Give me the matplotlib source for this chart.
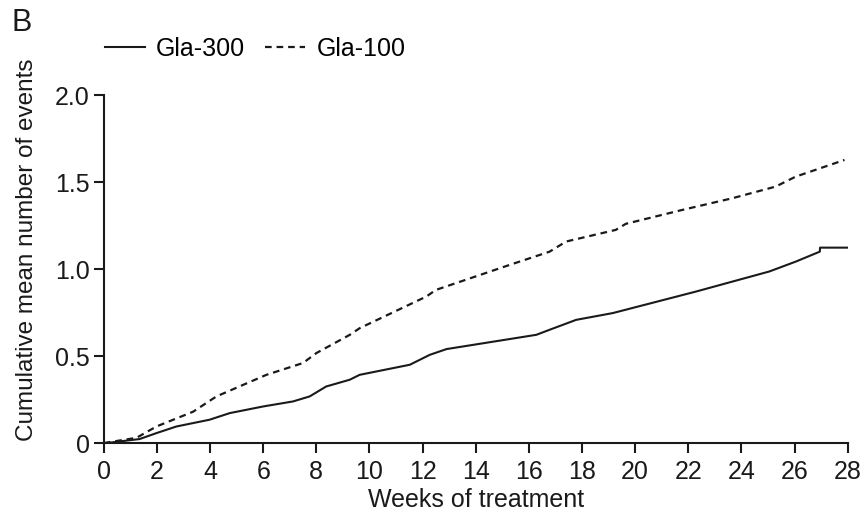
import matplotlib
matplotlib.use('Agg')
from matplotlib import pyplot as plt

# values
weeks_300 = [0.0, 0.1, 1.35, 1.98, 2.73, 3.98, 4.74, 5.99, 7.12, 7.75, 8.37, 9.26, 9.63,
             11.52, 12.27, 12.9, 16.28, 16.78, 17.78, 19.16, 22.3, 25.05, 26.05, 26.95,
             26.96, 28.0]
events_300 = [0.0, 0.0, 0.023, 0.057, 0.095, 0.134, 0.172, 0.21, 0.239, 0.268, 0.325,
              0.364, 0.392, 0.45, 0.507, 0.54, 0.622, 0.651, 0.708, 0.747, 0.871, 0.986,
              1.043, 1.10, 1.123, 1.123]

weeks_100 = [0.0, 0.41, 1.23, 1.98, 3.36, 3.86, 4.24, 6.12, 7.5, 8.0, 9.26, 9.63, 12.14,
             12.5, 15.28, 16.78, 17.4, 19.27, 19.65, 21.78, 23.66, 25.29, 26.04, 27.88]
events_100 = [0.0, 0.01, 0.03, 0.095, 0.18, 0.23, 0.268, 0.392, 0.46, 0.517, 0.622, 0.66,
              0.842, 0.88, 1.024, 1.10, 1.158, 1.225, 1.26, 1.34, 1.407, 1.474, 1.531, 1.627]

x_ticks = list(range(0, 29, 2))
y_ticks = [0, 0.5, 1.0, 1.5, 2.0]
y_tick_labels = ['0', '0.5', '1.0', '1.5', '2.0']

plt.rcParams['font.family'] = ['Liberation Sans', 'DejaVu Sans']
plt.rcParams['font.size'] = 18

ink = '#1a1a1a'

fig = plt.figure(figsize=(8.65, 5.11), dpi=100)
ax = fig.add_axes([0.120, 0.133, 0.860, 0.681])

ax.plot(weeks_300, events_300, color=ink, linewidth=1.5, label='Gla-300')
ax.plot(weeks_100, events_100, color=ink, linewidth=1.6, linestyle=(0, (3, 2.2)),
        label='Gla-100')

ax.set_xlim(0, 28)
ax.set_ylim(0, 2.0)
ax.set_xticks(x_ticks)
ax.set_yticks(y_ticks)
ax.set_yticklabels(y_tick_labels)

for side in ('top', 'right'):
    ax.spines[side].set_visible(False)
for side in ('left', 'bottom'):
    ax.spines[side].set_linewidth(1.5)
    ax.spines[side].set_color(ink)

ax.tick_params(axis='both', direction='out', length=7, width=1.5, color=ink,
               labelsize=18, labelcolor=ink, pad=3)
ax.tick_params(axis='x', pad=5)

ax.set_xlabel('Weeks of treatment', fontsize=18, color=ink, labelpad=3)
ax.set_ylabel('Cumulative mean number of events', fontsize=17.5, color=ink)
ax.yaxis.set_label_coords(-0.089, 0.555)

ax.legend(loc='lower left', bbox_to_anchor=(-0.012, 1.07), ncol=2, frameon=False,
          handlelength=1.6, handletextpad=0.45, columnspacing=0.8, fontsize=18,
          borderaxespad=0)

fig.text(0.013, 0.985, 'B', fontsize=22, color=ink, va='top', ha='left')

fig.savefig('out.png', dpi=100)
